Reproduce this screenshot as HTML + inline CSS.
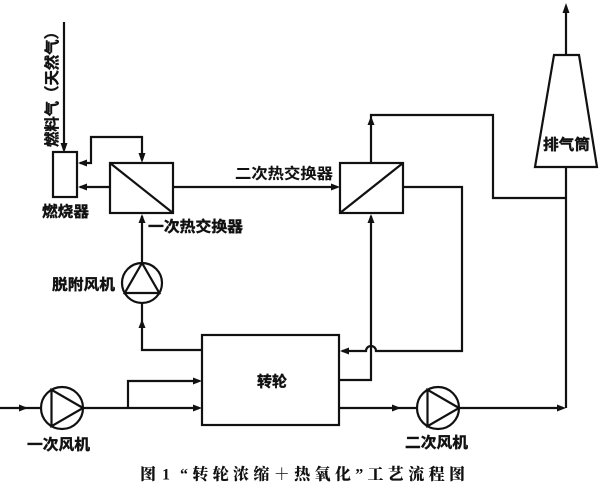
<!DOCTYPE html>
<html><head><meta charset="utf-8"><style>
html,body{margin:0;padding:0;background:#fff;}
svg{display:block;}
.l{font-family:"Liberation Sans","Noto Sans CJK SC",sans-serif;font-weight:bold;font-size:15px;fill:#111;stroke:#111;stroke-width:0.4;}
.c{font-family:"Liberation Serif","Noto Serif CJK SC",serif;font-weight:900;font-size:16px;fill:#111;}
</style></head><body>
<svg width="600" height="492" viewBox="0 0 600 492" xmlns="http://www.w3.org/2000/svg">
<g fill="none" stroke="#111" stroke-width="2.2">
  <line x1="64" y1="22" x2="64" y2="150"/>
  <rect x="53" y="152" width="24" height="45"/>
  <polyline points="80,163 91,163 91,137 142,137 142,160"/>
  <rect x="110" y="163" width="63" height="50"/>
  <line x1="110" y1="163" x2="173" y2="213"/>
  <line x1="110" y1="187" x2="80" y2="187"/>
  <line x1="173" y1="187" x2="337" y2="187"/>
  <rect x="340" y="163" width="63" height="50"/>
  <line x1="340" y1="213" x2="403" y2="163"/>
  <polyline points="371,163 371,115 493,115 493,198 566,198"/>
  <polygon points="554,55 579,55 597,167 535,167"/>
  <line x1="566" y1="55" x2="566" y2="6"/>
  <line x1="566" y1="167" x2="566" y2="408"/>
  <path d="M403,187 L462,187 L462,351 L376,351 A5,5 0 0 0 366,351 L342,351"/>
  <polyline points="339,380 371,380 371,216"/>
  <line x1="142" y1="216" x2="142" y2="263"/>
  <circle cx="142" cy="283" r="20"/>
  <polygon points="142,263 124.7,293 159.3,293"/>
  <polyline points="142,303 142,350 202,350"/>
  <rect x="202" y="335" width="137" height="90"/>
  <line x1="0" y1="408" x2="41" y2="408"/>
  <circle cx="62" cy="408" r="21"/>
  <polygon points="83,408 51.5,389.8 51.5,426.2"/>
  <line x1="83" y1="408" x2="199" y2="408"/>
  <polyline points="128,408 128,381 199,381"/>
  <line x1="339" y1="408" x2="417" y2="408"/>
  <circle cx="438" cy="408" r="21"/>
  <polygon points="459,408 427.5,389.8 427.5,426.2"/>
  <line x1="459" y1="408" x2="563" y2="408"/>
</g>
<g fill="#111" stroke="none">
  <polygon points="64,153 60.5,143 67.5,143"/>
  <polygon points="78,163 87,159.5 87,166.5"/>
  <polygon points="142,163 138.5,153 145.5,153"/>
  <polygon points="78,187 87,183.5 87,190.5"/>
  <polygon points="340,187 331,183.5 331,190.5"/>
  <polygon points="371,116 367.5,125 374.5,125"/>
  <polygon points="566,3 562.5,13 569.5,13"/>
  <polygon points="340,351 349,347.5 349,354.5"/>
  <polygon points="371,214 367.5,223 374.5,223"/>
  <polygon points="142,214 138.5,223 145.5,223"/>
  <polygon points="142,319 138.5,328 145.5,328"/>
  <polygon points="28,408 19,404.5 19,411.5"/>
  <polygon points="202,408 193,404.5 193,411.5"/>
  <polygon points="202,381 193,377.5 193,384.5"/>
  <polygon points="401,408 392,404.5 392,411.5"/>
  <polygon points="566,408 557,404.5 557,411.5"/>
</g>
<text class="l" transform="translate(52.5,85.5) rotate(-90)" text-anchor="middle" dominant-baseline="central" textLength="123" lengthAdjust="spacingAndGlyphs">燃料气（天然气）</text>
<text class="l" x="42" y="212" dominant-baseline="central" textLength="47" lengthAdjust="spacingAndGlyphs">燃烧器</text>
<text class="l" x="148" y="227" dominant-baseline="central" textLength="95" lengthAdjust="spacingAndGlyphs">一次热交换器</text>
<text class="l" x="235" y="174" dominant-baseline="central" textLength="98" lengthAdjust="spacingAndGlyphs" style="stroke-width:0.1">二次热交换器</text>
<text class="l" x="52" y="285" dominant-baseline="central" textLength="63" lengthAdjust="spacingAndGlyphs">脱附风机</text>
<text class="l" x="257" y="382" dominant-baseline="central" textLength="30" lengthAdjust="spacingAndGlyphs">转轮</text>
<text class="l" x="27" y="445" dominant-baseline="central" textLength="63" lengthAdjust="spacingAndGlyphs">一次风机</text>
<text class="l" x="405" y="443" dominant-baseline="central" textLength="63" lengthAdjust="spacingAndGlyphs">二次风机</text>
<text class="l" x="543" y="145" dominant-baseline="central" textLength="47" lengthAdjust="spacingAndGlyphs">排气筒</text>
<text class="c" x="140" y="475" dominant-baseline="central">图</text>
<text class="c" x="162" y="475" dominant-baseline="central">1</text>
<text class="c" x="180" y="475" dominant-baseline="central" textLength="285" lengthAdjust="spacing">“转轮浓缩＋热氧化”工艺流程图</text>
</svg>
</body></html>
